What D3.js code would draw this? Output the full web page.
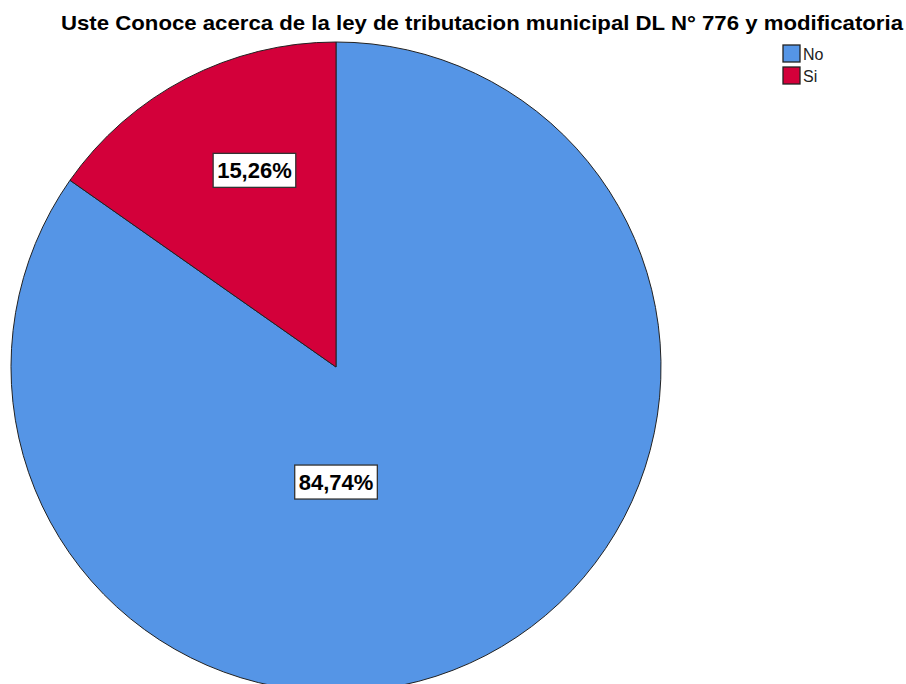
<!DOCTYPE html>
<html>
<head>
<meta charset="utf-8">
<script src="https://cdn.jsdelivr.net/npm/d3@7"></script>
<style>
  body { margin: 0; background: #fff; }
  svg { display: block; font-family: "Liberation Sans", Arial, sans-serif; }
</style>
</head>
<body>
<svg id="drawing_region"></svg>
<script>
// data
const categories = ["No", "Si"];
const percents = [84.74, 15.26];
const labels = ["84,74%", "15,26%"];
const colors = ["#5595e6", "#d3003a"];
const title = "Uste Conoce acerca de la ley de tributacion municipal DL N° 776 y modificatoria";

const width = 906, height = 684;
const cx = 336, cy = 367, radius = 325;

const svg = d3.select('#drawing_region')
    .attr('width', width)
    .attr('height', height);

svg.append('text')
    .attr('x', 482)
    .attr('y', 30)
    .attr('text-anchor', 'middle')
    .attr('font-size', 21)
    .attr('font-weight', 'bold')
    .attr('textLength', 842)
    .attr('lengthAdjust', 'spacingAndGlyphs')
    .text(title);

const data = categories.map((c, i) => ({ name: c, value: percents[i], label: labels[i], color: colors[i] }));

const pie = d3.pie().value(d => d.value).sort(null);
const arc = d3.arc().innerRadius(0).outerRadius(radius);

const chart = svg.append('g')
    .attr('transform', `translate(${cx}, ${cy})`);

const arcs = pie(data);

chart.selectAll('path')
    .data(arcs)
    .join('path')
    .attr('d', arc)
    .attr('fill', d => d.data.color)
    .attr('stroke', '#222')
    .attr('stroke-width', 1);

// label placement, roughly where SPSS put them
function labelPos(d) {
    const a = d.startAngle + 0.59 * (d.endAngle - d.startAngle);
    const r = (d.endAngle - d.startAngle) < Math.PI ? radius * 0.655 : radius * 0.354;
    return [Math.sin(a) * r, -Math.cos(a) * r];
}

const lab = chart.selectAll('g.lab')
    .data(arcs)
    .join('g')
    .attr('class', 'lab')
    .attr('transform', d => `translate(${labelPos(d)})`);

lab.append('text')
    .attr('text-anchor', 'middle')
    .attr('dy', '0.36em')
    .attr('font-size', 22)
    .attr('font-weight', 'bold')
    .attr('fill', '#000')
    .text(d => d.data.label);

lab.each(function () {
    const g = d3.select(this);
    const bb = g.select('text').node().getBBox();
    g.insert('rect', 'text')
        .attr('x', bb.x - 4)
        .attr('y', -17)
        .attr('width', bb.width + 8)
        .attr('height', 34)
        .attr('fill', '#fff')
        .attr('stroke', '#333')
        .attr('stroke-width', 1.3);
});

// legend
const legend = svg.append('g')
    .attr('transform', 'translate(783, 45)');

const item = legend.selectAll('g')
    .data(data)
    .join('g')
    .attr('transform', (d, i) => `translate(0, ${i * 22})`);

item.append('rect')
    .attr('width', 17)
    .attr('height', 17)
    .attr('fill', d => d.color)
    .attr('stroke', '#222')
    .attr('stroke-width', 1.3);

item.append('text')
    .attr('x', 20)
    .attr('y', 15)
    .attr('font-size', 16)
    .attr('fill', '#222')
    .attr('transform', 'scale(1,1)')
    .text(d => d.name);
</script>
</body>
</html>
